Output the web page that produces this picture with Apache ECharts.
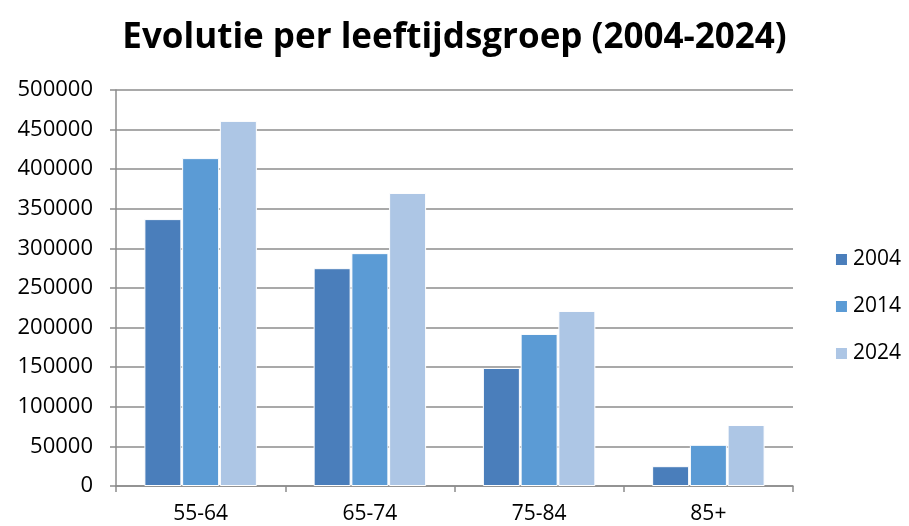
<!DOCTYPE html>
<html lang="nl">
<head>
    <meta charset="UTF-8">
    <title>Evolutie per leeftijdsgroep</title>
    <script type="text/javascript" src="https://cdn.jsdelivr.net/npm/echarts@6/dist/echarts.min.js"></script>
    <style>
        body { margin: 0; background: #fff; }
    </style>
</head>
<body>
<div id="chartmain" style="width:909px;height:526px"></div>
<script>
    var categories = ['55-64', '65-74', '75-84', '85+'];
    var years = ['2004', '2014', '2024'];
    var values2004 = [337000, 275000, 149000, 25000];
    var values2014 = [414000, 294000, 192000, 52000];
    var values2024 = [461000, 370000, 221000, 77000];
    var colors = ['#4A7EBB', '#5B9BD5', '#ADC6E5'];

    var font = '"Open Sans", "DejaVu Sans", sans-serif';
    var allValues = [values2004, values2014, values2024];
    var series = [];
    for (var i = 0; i < years.length; i++) {
        series.push({
            name: years[i],
            type: 'bar',
            data: allValues[i],
            barWidth: 37,
            barGap: '2%',
            itemStyle: { color: colors[i], borderColor: '#ffffff', borderWidth: 1 }
        });
    }

    var option = {
        animation: false,
        title: {
            text: 'Evolutie per leeftijdsgroep (2004-2024)',
            left: 'center',
            top: 16,
            textStyle: { fontFamily: font, fontSize: 35, fontWeight: 'bold', color: '#000' }
        },
        legend: {
            orient: 'vertical',
            right: 3,
            top: 244,
            itemGap: 26,
            itemWidth: 13,
            itemHeight: 13,
            icon: 'rect',
            textStyle: { fontFamily: font, fontSize: 21, color: '#000' },
            data: years
        },
        grid: { left: 116, right: 116, top: 90, bottom: 40 },
        xAxis: {
            type: 'category',
            data: categories,
            axisLine: { lineStyle: { color: '#8c8c8c', width: 1.5 } },
            axisTick: { show: true, length: 6, lineStyle: { color: '#8c8c8c', width: 1.5 } },
            axisLabel: { fontFamily: font, fontSize: 21, color: '#000', margin: 18 }
        },
        yAxis: {
            type: 'value',
            min: 0,
            max: 500000,
            interval: 50000,
            axisLine: { show: true, lineStyle: { color: '#8c8c8c', width: 1.5 } },
            axisTick: { show: true, length: 6, lineStyle: { color: '#8c8c8c', width: 1.5 } },
            axisLabel: {
                fontFamily: font, fontSize: 22, color: '#000', margin: 23,
                formatter: function (v) { return String(v); }
            },
            splitLine: { lineStyle: { color: '#8c8c8c', width: 1.5 } }
        },
        series: series
    };

    var myChart = echarts.init(document.getElementById('chartmain'));
    myChart.setOption(option);
</script>
</body>
</html>
